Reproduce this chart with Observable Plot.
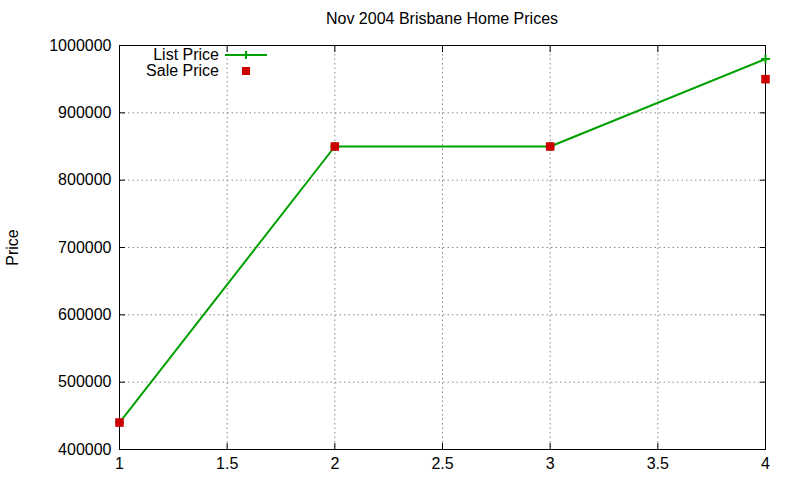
<!DOCTYPE html>
<html>
<head>
<meta charset="utf-8">
<script src="https://cdn.jsdelivr.net/npm/d3@7"></script>
<script src="https://cdn.jsdelivr.net/npm/@observablehq/plot@0.6"></script>
<style>
  html, body { margin: 0; padding: 0; background: #fff; }
  #wrap { position: relative; width: 800px; height: 480px; font-family: "Liberation Sans", Arial, sans-serif; }
  #title { position: absolute; left: 119px; width: 646px; top: 10px; text-align: center; font-size: 16px; color: #000; }
  #legend { position: absolute; left: 119px; top: 47px; font-size: 16px; }
  .lrow { display: flex; align-items: center; height: 16px; }
  .lrow span { width: 100px; text-align: right; padding-right: 6px; line-height: 16px; }
</style>
</head>
<body>
<div id="wrap">
  <div id="chart"></div>
  <div id="title"></div>
  <div id="legend"></div>
</div>
<script>
const titleText = "Nov 2004 Brisbane Home Prices";
const yLabel = "Price";
const seriesNames = ["List Price", "Sale Price"];
const xValues = [1, 2, 3, 4];
const listPrice = [440000, 850000, 850000, 980000];
const salePrice = [440000, 850000, 850000, 950000];
const xTicks = [1, 1.5, 2, 2.5, 3, 3.5, 4];
const yTicks = [400000, 500000, 600000, 700000, 800000, 900000, 1000000];
const green = "#00a000";
const red = "#cc0000";

const listData = xValues.map((x, i) => ({x, y: listPrice[i]}));
const saleData = xValues.map((x, i) => ({x, y: salePrice[i]}));

const chart = Plot.plot({
  width: 800,
  height: 480,
  marginLeft: 119,
  marginRight: 35,
  marginTop: 45,
  marginBottom: 31,
  style: { fontFamily: "'Liberation Sans', Arial, sans-serif", fontSize: "16px", color: "#000", background: "#fff" },
  x: { domain: [1, 4] },
  y: { domain: [400000, 1000000] },
  marks: [
    Plot.gridX(xTicks.slice(1, -1), { stroke: "#888", strokeOpacity: 1, strokeDasharray: "1.5,3", strokeWidth: 1 }),
    Plot.gridY(yTicks.slice(1, -1), { stroke: "#888", strokeOpacity: 1, strokeDasharray: "1.5,3", strokeWidth: 1 }),
    Plot.axisX(xTicks, { anchor: "bottom", tickSize: -6, tickPadding: 14, tickFormat: d => String(d), label: null, stroke: "#000", fontSize: 16 }),
    Plot.axisX(xTicks, { anchor: "top", tickSize: -6, tickFormat: () => "", label: null, stroke: "#000" }),
    Plot.axisY(yTicks, { anchor: "left", tickSize: -6, tickPadding: 14, tickFormat: d => String(d), label: yLabel, labelAnchor: "center", labelArrow: "none", labelOffset: 113, stroke: "#000", fontSize: 16 }),
    Plot.axisY(yTicks, { anchor: "right", tickSize: -6, tickFormat: () => "", label: null, stroke: "#000" }),
    Plot.frame({ stroke: "#000", strokeWidth: 1 }),
    Plot.line(listData, { x: "x", y: "y", stroke: green, strokeWidth: 2 }),
    Plot.dot(listData, { x: "x", y: "y", symbol: "plus", r: 3, stroke: green, strokeWidth: 2 }),
    Plot.dot(saleData, { x: "x", y: "y", symbol: "square", r: 4.8, fill: red, stroke: "none" })
  ]
});
document.getElementById("chart").appendChild(chart);
document.getElementById("title").textContent = titleText;

const legend = document.getElementById("legend");
legend.innerHTML =
  `<div class="lrow"><span>${seriesNames[0]}</span><svg width="46" height="16"><line x1="0" x2="42" y1="8" y2="8" stroke="${green}" stroke-width="2"/><line x1="21" x2="21" y1="4" y2="12" stroke="${green}" stroke-width="2"/></svg></div>` +
  `<div class="lrow"><span>${seriesNames[1]}</span><svg width="46" height="16"><rect x="17" y="4" width="8" height="8" fill="${red}"/></svg></div>`;
</script>
</body>
</html>
